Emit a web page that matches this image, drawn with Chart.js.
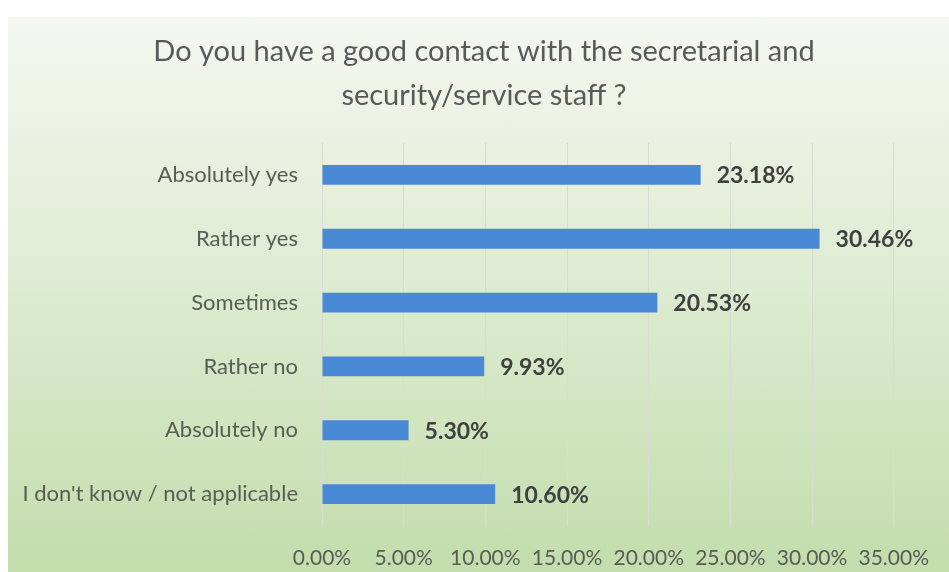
<!DOCTYPE html>
<html>
<head>
<meta charset="utf-8">
<script src="https://cdn.jsdelivr.net/npm/chart.js@4/dist/chart.umd.min.js"></script>
<style>
  html, body { margin: 0; padding: 0; background: #fff; }
  #frame {
    position: absolute; left: 8px; top: 17px; width: 941px; height: 555px;
    background: linear-gradient(to bottom, #f5f7f1 0%, #dfecd3 45%, #c3ddad 100%);
  }
</style>
</head>
<body>
<div id="frame"><canvas id="chart" width="941" height="555"></canvas></div>
<script>
const categories = [
  "Absolutely yes",
  "Rather yes",
  "Sometimes",
  "Rather no",
  "Absolutely no",
  "I don't know / not applicable"
];
const shares = [23.18, 30.46, 20.53, 9.93, 5.30, 10.60];
const titleLines = ["Do you have a good contact with the secretarial and", "security/service staff ?"];

const fontFamily = "Lato, 'Open Sans', sans-serif";
const textGrey = "#585c55";

// title drawn by hand so it sits centred on the whole frame, like the original
const titleBlock = {
  id: "titleBlock",
  beforeDraw(chart) {
    const { ctx } = chart;
    ctx.save();
    ctx.font = `29px ${fontFamily}`;
    ctx.fillStyle = "#595959";
    ctx.textAlign = "center";
    ctx.textBaseline = "middle";
    titleLines.forEach((line, i) => ctx.fillText(line, 476, 35 + i * 44));
    ctx.restore();
  }
};

const valueLabels = {
  id: "valueLabels",
  afterDatasetsDraw(chart) {
    const { ctx } = chart;
    const meta = chart.getDatasetMeta(0);
    ctx.save();
    ctx.font = `bold 23px ${fontFamily}`;
    ctx.fillStyle = "#404040";
    ctx.textAlign = "left";
    ctx.textBaseline = "middle";
    meta.data.forEach((bar, i) => {
      ctx.fillText(shares[i].toFixed(2) + "%", bar.x + 16, bar.y + 1);
    });
    ctx.restore();
  }
};

new Chart(document.getElementById("chart"), {
  type: "bar",
  data: {
    labels: categories,
    datasets: [{
      data: shares,
      backgroundColor: "#4a89d6",
      barPercentage: 0.62,
      categoryPercentage: 0.5
    }]
  },
  options: {
    indexAxis: "y",
    responsive: false,
    animation: false,
    layout: { padding: { left: 0, right: 44, top: 126, bottom: 0 } },
    plugins: {
      legend: { display: false },
      tooltip: { enabled: false },
      title: { display: false }
    },
    scales: {
      x: {
        min: 0,
        max: 35,
        ticks: {
          stepSize: 5,
          padding: 20,
          color: textGrey,
          font: { family: fontFamily, size: 21 },
          callback: (v) => v.toFixed(2) + "%"
        },
        grid: { color: "#d8ddd2", drawTicks: false },
        border: { display: false },
        afterFit: (scale) => { scale.height = 46; }
      },
      y: {
        ticks: {
          padding: 24,
          color: textGrey,
          font: { family: fontFamily, size: 22 }
        },
        grid: { display: false, drawTicks: false },
        border: { display: false },
        afterFit: (scale) => { scale.width = 314; }
      }
    }
  },
  plugins: [titleBlock, valueLabels]
});
</script>
</body>
</html>
